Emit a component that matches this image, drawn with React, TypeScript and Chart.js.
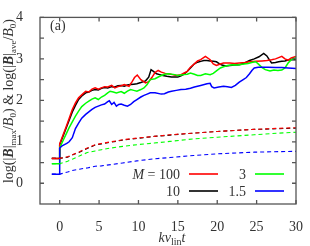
import React, { useEffect, useRef } from "react";
import { Chart, registerables } from "chart.js";

Chart.register(...registerables);

// ---- data ----
const xTicks = [0, 5, 10, 15, 20, 25, 30];
const yTicks = [0, 0.5, 1, 1.5, 2, 2.5, 3, 3.5, 4];

// solid: log(|B|max/B0)
const tRedMax = [-1, 0, 0, 0.4, 0.8, 1.2, 1.6, 2.0, 2.4, 2.9, 3.3, 3.7, 4.1, 4.5, 4.9, 5.3, 5.7, 6.1, 6.6, 7.0, 7.4, 7.8, 8.2, 8.8, 9.2, 9.5, 9.85, 10.3, 10.9, 11.3, 11.7, 12.1, 12.5, 12.9, 13.4, 13.8, 14.3, 14.8, 15.4, 15.8, 16.2, 16.6, 17.1, 17.5, 17.9, 18.5, 19.1, 19.5, 19.9, 20.3, 20.8, 21.6, 22.2, 22.8, 23.5, 24.1, 24.9, 25.7, 26.3, 26.9, 27.4, 27.8, 28.2, 28.6, 29.0, 29.4, 30];
const redMax = [0.6, 0.6, 0.95, 1.15, 1.35, 1.56, 1.78, 1.94, 2.06, 2.15, 2.22, 2.2, 2.27, 2.3, 2.27, 2.3, 2.33, 2.32, 2.36, 2.3, 2.33, 2.35, 2.38, 2.34, 2.45, 2.55, 2.61, 2.5, 2.42, 2.45, 2.55, 2.67, 2.72, 2.68, 2.65, 2.64, 2.62, 2.6, 2.62, 2.66, 2.7, 2.8, 2.88, 2.95, 2.98, 3.06, 2.98, 2.88, 2.84, 2.87, 2.9, 2.9, 2.89, 2.9, 2.91, 2.93, 2.94, 2.95, 2.96, 2.98, 3.0, 3.03, 3.06, 3.0, 2.97, 3.02, 3.06];

const tBlackMax = [-1, 0, 0, 0.4, 0.8, 1.2, 1.6, 2.0, 2.4, 2.9, 3.3, 3.7, 4.1, 4.5, 4.9, 5.3, 5.7, 6.1, 6.6, 7.0, 7.4, 7.8, 8.2, 8.6, 9.0, 9.4, 9.8, 10.3, 10.9, 11.3, 11.6, 11.9, 12.3, 12.7, 13.1, 13.6, 14.2, 15.0, 15.4, 15.8, 16.2, 16.6, 17.1, 17.5, 17.9, 18.3, 18.7, 19.1, 19.5, 19.9, 20.3, 20.6, 21.1, 21.6, 22.2, 22.8, 23.5, 24.1, 24.7, 25.3, 25.9, 26.3, 26.6, 26.9, 27.4, 27.8, 28.2, 28.6, 29.0, 29.4, 30];
const blackMax = [0.6, 0.6, 0.93, 1.12, 1.32, 1.52, 1.72, 1.88, 2.02, 2.12, 2.18, 2.2, 2.24, 2.26, 2.25, 2.29, 2.31, 2.3, 2.33, 2.32, 2.35, 2.36, 2.34, 2.37, 2.38, 2.39, 2.4, 2.43, 2.47, 2.56, 2.74, 2.7, 2.64, 2.62, 2.6, 2.58, 2.56, 2.56, 2.59, 2.63, 2.7, 2.78, 2.88, 2.92, 2.94, 2.96, 2.96, 2.95, 2.94, 2.93, 2.88, 2.85, 2.83, 2.84, 2.85, 2.86, 2.9, 2.96, 3.0, 3.05, 3.13, 3.07, 2.98, 2.9, 2.91, 2.93, 2.94, 2.95, 2.97, 2.98, 2.98];

const tGreenMax = [-1, 0, 0, 0.4, 0.8, 1.2, 1.6, 2.0, 2.4, 2.8, 3.3, 3.7, 4.1, 4.5, 4.9, 5.3, 5.7, 6.1, 6.4, 6.8, 7.2, 7.8, 8.2, 8.6, 9.0, 9.4, 9.8, 10.3, 10.7, 11.1, 11.5, 12.1, 12.7, 13.3, 13.8, 14.6, 15.0, 15.4, 15.8, 16.2, 16.6, 17.1, 17.5, 17.9, 18.5, 19.1, 19.5, 19.9, 20.4, 20.8, 21.3, 22.0, 22.6, 23.2, 23.9, 24.5, 24.9, 25.3, 25.7, 26.1, 26.7, 27.2, 27.7, 28.2, 28.6, 29.0, 29.4, 30];
const greenMax = [0.47, 0.47, 0.85, 1.02, 1.18, 1.34, 1.48, 1.62, 1.74, 1.85, 1.93, 1.98, 2.03, 2.06, 2.02, 2.08, 2.12, 2.18, 2.22, 2.2, 2.18, 2.21, 2.17, 2.22, 2.26, 2.24, 2.22, 2.26, 2.3, 2.38, 2.5, 2.52, 2.58, 2.63, 2.64, 2.62, 2.6, 2.61, 2.62, 2.63, 2.66, 2.63, 2.6, 2.6, 2.64, 2.62, 2.65, 2.71, 2.78, 2.81, 2.84, 2.86, 2.85, 2.87, 2.89, 2.92, 2.93, 2.86, 2.79, 2.74, 2.71, 2.73, 2.72, 2.73, 2.78, 2.9, 2.98, 3.03];

const tBlueMax = [-1, 0, 0, 0.3, 0.6, 0.9, 1.2, 1.6, 2.0, 2.4, 2.8, 3.3, 3.7, 4.1, 4.5, 4.9, 5.3, 5.7, 6.1, 6.3, 6.6, 6.9, 7.2, 7.5, 7.8, 8.2, 8.6, 9.0, 9.4, 9.8, 10.3, 10.7, 11.1, 11.5, 12.1, 12.9, 13.3, 13.8, 14.2, 14.8, 15.4, 16.0, 16.6, 17.1, 17.9, 18.7, 19.1, 19.3, 19.6, 20.2, 20.8, 21.3, 21.8, 22.3, 22.8, 23.3, 23.7, 24.1, 24.4, 24.7, 25.2, 25.7, 26.5, 27.4, 28.2, 29.0, 30];
const blueMax = [0.22, 0.22, 0.85, 0.9, 0.93, 0.96, 1.0, 1.1, 1.32, 1.45, 1.57, 1.66, 1.72, 1.78, 1.83, 1.86, 1.89, 1.91, 1.97, 1.99, 1.9, 1.95, 1.86, 1.9, 1.91, 1.88, 1.86, 1.9, 1.97, 2.02, 2.08, 2.12, 2.15, 2.18, 2.18, 2.15, 2.16, 2.2, 2.22, 2.24, 2.26, 2.27, 2.29, 2.32, 2.36, 2.4, 2.41, 2.33, 2.3, 2.32, 2.34, 2.33, 2.31, 2.36, 2.44, 2.5, 2.55, 2.64, 2.72, 2.78, 2.8, 2.8, 2.8, 2.79, 2.79, 2.78, 2.77];

// dashed: log(|B|ave/B0)
const tAve = [-1, 0, 1, 1.6, 2.5, 3.5, 4.5, 5.3, 6.5, 8, 9.8, 12, 14, 17, 20, 24.7, 27, 30];
const redAve = [0.6, 0.6, 0.64, 0.69, 0.76, 0.85, 0.93, 0.96, 1.0, 1.05, 1.09, 1.13, 1.17, 1.21, 1.25, 1.3, 1.32, 1.34];
const blackAve = [0.6, 0.6, 0.63, 0.68, 0.75, 0.84, 0.92, 0.95, 0.99, 1.04, 1.08, 1.13, 1.16, 1.21, 1.25, 1.3, 1.31, 1.33];
const greenAve = [0.47, 0.47, 0.53, 0.58, 0.66, 0.74, 0.78, 0.81, 0.85, 0.89, 0.93, 0.97, 1.01, 1.07, 1.11, 1.17, 1.2, 1.23];
const blueAve = [0.22, 0.22, 0.27, 0.31, 0.34, 0.37, 0.41, 0.42, 0.45, 0.49, 0.54, 0.59, 0.62, 0.67, 0.71, 0.75, 0.76, 0.77];

const legendLabels = ["100", "3", "10", "1.5"];
const RED = "#ff0000", GREEN = "#00ff00", BLACK = "#000000", BLUE = "#0000ff";
const FONT = "'Liberation Serif', 'DejaVu Serif', serif";

const pts = (t: number[], v: number[]) => t.map((x, i) => ({ x, y: v[i] }));

const decor = {
  id: "decor",
  afterDraw(chart: any) {
    const { ctx, chartArea } = chart;
    const { left, right, top, bottom } = chartArea;
    const xs = chart.scales.x, ys = chart.scales.y;
    ctx.save();
    ctx.strokeStyle = "#555";
    ctx.lineWidth = 1.3;
    ctx.strokeRect(left, top, right - left, bottom - top);
    ctx.beginPath();
    xTicks.forEach((v) => {
      const p = xs.getPixelForValue(v);
      ctx.moveTo(p, bottom); ctx.lineTo(p, bottom - 4);
      ctx.moveTo(p, top); ctx.lineTo(p, top + 4);
    });
    yTicks.forEach((v) => {
      const p = ys.getPixelForValue(v);
      ctx.moveTo(left, p); ctx.lineTo(left + 4, p);
      ctx.moveTo(right, p); ctx.lineTo(right - 4, p);
    });
    ctx.stroke();

    ctx.fillStyle = "#333";
    ctx.textBaseline = "alphabetic";
    // (a)
    ctx.font = `14px ${FONT}`;
    ctx.textAlign = "left";
    ctx.fillText("(a)", 50, 30);

    // legend
    const rows = [
      { y: 174, items: [{ lab: legendLabels[0], c: RED, m: true, xr: 180 }, { lab: legendLabels[1], c: GREEN, m: false, xr: 246 }] },
      { y: 191, items: [{ lab: legendLabels[2], c: BLACK, m: false, xr: 180 }, { lab: legendLabels[3], c: BLUE, m: false, xr: 246 }] },
    ];
    rows.forEach((r) => {
      r.items.forEach((it) => {
        ctx.font = `14px ${FONT}`;
        ctx.textAlign = "right";
        ctx.fillText(it.lab, it.xr, r.y + 5);
        if (it.m) {
          const w = ctx.measureText(it.lab).width;
          ctx.fillText(" = ", it.xr - w, r.y + 5);
          const w2 = ctx.measureText(" = ").width;
          ctx.font = `italic 14px ${FONT}`;
          ctx.fillText("M", it.xr - w - w2, r.y + 5);
        }
        ctx.strokeStyle = it.c;
        ctx.lineWidth = 1.6;
        ctx.beginPath();
        ctx.moveTo(it.xr + 9, r.y);
        ctx.lineTo(it.xr + 38, r.y);
        ctx.stroke();
      });
    });

    // x title
    const xParts = [
      { s: "kv", f: `italic 14px ${FONT}`, dy: 0 },
      { s: "lin", f: `10px ${FONT}`, dy: 3 },
      { s: "t", f: `italic 14px ${FONT}`, dy: 0 },
    ];
    drawParts(ctx, xParts, 172, 242);

    // y title
    ctx.save();
    ctx.translate(13, 101);
    ctx.rotate(-Math.PI / 2);
    const yParts = [
      { s: "log(|", f: `14px ${FONT}`, dy: 0 },
      { s: "B", f: `bold italic 14px ${FONT}`, dy: 0 },
      { s: "|", f: `14px ${FONT}`, dy: 0 },
      { s: "max", f: `9px ${FONT}`, dy: 3 },
      { s: "/", f: `14px ${FONT}`, dy: 0 },
      { s: "B", f: `italic 14px ${FONT}`, dy: 0 },
      { s: "0", f: `9px ${FONT}`, dy: 3 },
      { s: ") & log(|", f: `14px ${FONT}`, dy: 0 },
      { s: "B", f: `bold italic 14px ${FONT}`, dy: 0 },
      { s: "|", f: `14px ${FONT}`, dy: 0 },
      { s: "ave", f: `9px ${FONT}`, dy: 3 },
      { s: "/", f: `14px ${FONT}`, dy: 0 },
      { s: "B", f: `italic 14px ${FONT}`, dy: 0 },
      { s: "0", f: `9px ${FONT}`, dy: 3 },
      { s: ")", f: `14px ${FONT}`, dy: 0 },
    ];
    drawParts(ctx, yParts, 0, 0);
    ctx.restore();
    ctx.restore();
  },
};

function drawParts(ctx: any, parts: any[], cx: number, by: number) {
  let total = 0;
  parts.forEach((p) => { ctx.font = p.f; total += ctx.measureText(p.s).width; });
  let x = cx - total / 2;
  ctx.textAlign = "left";
  parts.forEach((p) => {
    ctx.font = p.f;
    ctx.fillText(p.s, x, by + p.dy);
    x += ctx.measureText(p.s).width;
  });
}

export default function App() {
  const ref = useRef<HTMLCanvasElement>(null);
  useEffect(() => {
    document.body.style.margin = "0";
    const solid = (t: number[], v: number[], c: string) => ({
      data: pts(t, v), borderColor: c, borderWidth: 1.5, pointRadius: 0, tension: 0, fill: false,
    });
    const dashed = (t: number[], v: number[], c: string) => ({
      data: pts(t, v), borderColor: c, borderWidth: 1.1, pointRadius: 0, tension: 0, fill: false, borderDash: [4, 3],
    });
    const chart = new Chart(ref.current!, {
      type: "line",
      data: {
        datasets: [
          dashed(tAve, blueAve, BLUE),
          dashed(tAve, greenAve, GREEN),
          dashed(tAve, redAve, RED),
          dashed(tAve, blackAve, BLACK),
          solid(tBlueMax, blueMax, BLUE),
          solid(tGreenMax, greenMax, GREEN),
          solid(tRedMax, redMax, RED),
          solid(tBlackMax, blackMax, BLACK),
        ] as any,
      },
      options: {
        animation: false,
        responsive: false,
        events: [],
        layout: { padding: { top: 7, right: 7, left: 0, bottom: 0 } },
        plugins: { legend: { display: false }, tooltip: { enabled: false } },
        scales: {
          x: {
            type: "linear", min: -2.5, max: 30,
            grid: { display: false },
            border: { display: false },
            afterBuildTicks: (s: any) => { s.ticks = xTicks.map((v) => ({ value: v })); },
            afterFit: (s: any) => { s.height = 42; },
            ticks: { font: { family: FONT, size: 14 }, color: "#333", padding: 7, maxRotation: 0 },
          },
          y: {
            type: "linear", min: -0.5, max: 4,
            grid: { display: false },
            border: { display: false },
            afterBuildTicks: (s: any) => { s.ticks = yTicks.map((v) => ({ value: v })); },
            afterFit: (s: any) => { s.width = 40; },
            ticks: {
              font: { family: FONT, size: 14 }, color: "#333", padding: 9,
              callback: (v: any) => (Number.isInteger(v) ? String(v) : ""),
            },
          },
        },
      },
      plugins: [decor],
    });
    return () => chart.destroy();
  }, []);
  return <canvas ref={ref} width={310} height={246} style={{ display: "block" }} />;
}
